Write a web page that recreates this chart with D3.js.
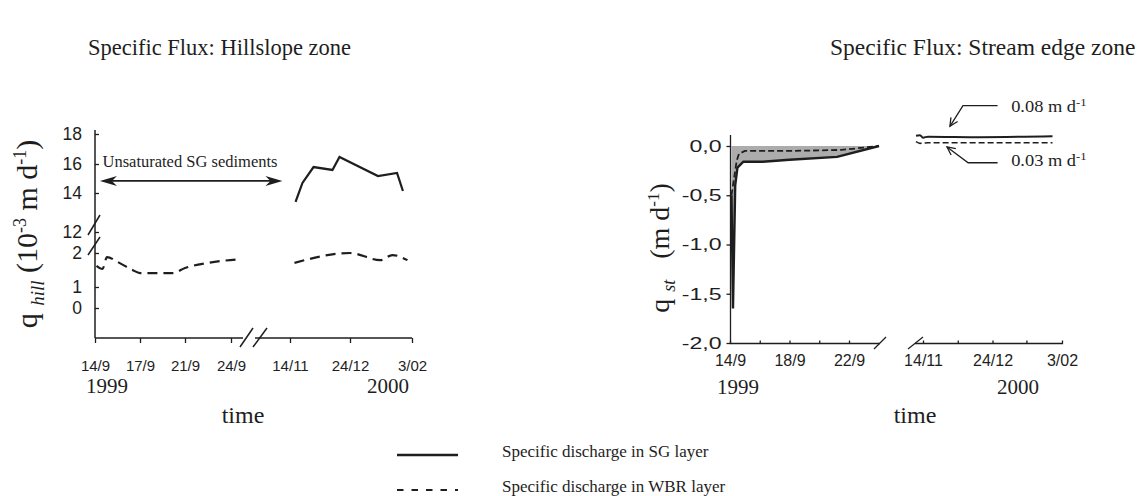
<!DOCTYPE html>
<html><head><meta charset="utf-8">
<script src="https://cdn.jsdelivr.net/npm/d3@7"></script>
<style>body{margin:0;background:#fff}svg{display:block}text{white-space:pre}</style>
</head><body><svg id="c" width="1142" height="496"></svg>
<script>
// ---- data (x = days since 14 Sep 1999) ----
const hillTickDays   = [0,3,7,10,61,101,142];
const hillTickLabels = ["14/9","17/9","21/9","24/9","14/11","24/12","3/02"];
const hillUpperTicks = [12,14,16,18];
const hillLowerTicks = [0,1,2];
const hillSG2000  = [[64.7,13.54],[69.3,14.69],[76.7,15.79],[89.3,15.59],[94,16.47],[119.5,15.17],[132.1,15.38],[136,14.14]];
const hillWBR1999 = [[0.1,1.62],[0.5,1.53],[0.8,1.88],[1.5,1.74],[2.5,1.5],[3,1.41],[5.9,1.41],[7,1.56],[8.5,1.71],[10.7,1.82]];
const hillWBR2000 = [[64,1.71],[101,2.0],[121,1.79],[129,1.94],[139,1.79]];

const streamTickDays   = [0,2,4,6,8,61,81,101,121,142];
const streamTickLabels = ["14/9","","18/9","","22/9","14/11","","24/12","","3/02"];
const streamYTicks      = [0,-0.5,-1,-1.5,-2];
const streamYTickLabels = ["0,0","-0,5","-1,0","-1,5","-2,0"];
const streamSG1999  = [[0.1,-0.5],[0.2,-1.65],[0.35,-0.4],[0.5,-0.22],[0.9,-0.16],[2.2,-0.16],[4,-0.14],[7.2,-0.11],[10,0.0]];
const streamWBR1999 = [[0.1,-0.5],[0.3,-0.3],[0.45,-0.15],[0.6,-0.08],[1.0,-0.05],[4,-0.05],[7.5,-0.04],[10,0.0]];
const streamSG2000  = [[52.9,0.105],[57.5,0.11],[61,0.085],[63.9,0.095],[93.8,0.09],[136.4,0.1]];
const streamWBR2000 = [[52.9,0.044],[57.5,0.027],[63.9,0.033],[136.4,0.033]];

const INK = "#1e1e1e";
const SERIF = "Liberation Serif, Times New Roman, serif";
const SANS = "Liberation Sans, Arial, sans-serif";
const svg = d3.select("#c");

function rich(sel, parts){
  parts.forEach(p=>{
    const t = sel.append("tspan").text(p.t);
    if(p.size) t.attr("font-size", p.size);
    if(p.it) t.attr("font-style","italic");
    if(p.dy) t.attr("dy", p.dy);
  });
  return sel;
}

// ---- titles ----
svg.append("text").attr("x",88).attr("y",55).attr("font-family",SERIF).attr("font-size",22.5).attr("fill",INK).text("Specific Flux: Hillslope zone");
svg.append("text").attr("x",830).attr("y",55).attr("font-family",SERIF).attr("font-size",23.5).attr("fill",INK).text("Specific Flux: Stream edge zone");

// ================= LEFT: hillslope =================
const xH = d3.scaleLinear().domain([0,3,7,10,11,61,101,142]).range([95,140,185,231,246,290,350,412]);
const yUp = d3.scaleLinear().domain([12,14,16,18]).range([232,193,164,134]);
const yLo = d3.scaleLinear().domain([0,1,2]).range([308,287,253]);
const L = svg.append("g");

// axis lines
L.append("line").attr("x1",95).attr("x2",95).attr("y1",130).attr("y2",338).attr("stroke",INK).attr("stroke-width",1.5);
L.append("line").attr("x1",95).attr("x2",412).attr("y1",338).attr("y2",338).attr("stroke",INK).attr("stroke-width",1.5);

function styleAxis(g, size){
  g.select(".domain").remove();
  g.attr("font-family",SANS).attr("font-size",size);
  g.selectAll("line").attr("stroke",INK).attr("stroke-width",1.3);
  g.selectAll("text").attr("fill",INK);
}
L.append("g").attr("transform","translate(95,0)")
  .call(d3.axisLeft(yUp).tickValues(hillUpperTicks).tickSize(-4).tickPadding(13).tickFormat(d3.format("d")))
  .call(g=>styleAxis(g,17.5));
L.append("g").attr("transform","translate(95,0)")
  .call(d3.axisLeft(yLo).tickValues(hillLowerTicks).tickSize(-4).tickPadding(13).tickFormat(d3.format("d")))
  .call(g=>styleAxis(g,17.5));
L.append("g").attr("transform","translate(0,338)")
  .call(d3.axisBottom(xH).tickValues(hillTickDays).tickSize(5).tickFormat((d,i)=>hillTickLabels[i]))
  .call(g=>{styleAxis(g,15); g.selectAll("text").attr("y",33).attr("dy",null);});

// break marks
const slash = (x1,y1,x2,y2)=>L.append("line").attr("x1",x1).attr("y1",y1).attr("x2",x2).attr("y2",y2).attr("stroke",INK).attr("stroke-width",1.5);
slash(88,235,100,215); slash(88,255,100,237);
L.append("rect").attr("x",243).attr("y",334).attr("width",12).attr("height",8).attr("fill","#fff");
slash(240,347,253,328); slash(253,347,267,328);

// lines
const lineH = yS => d3.line().x(d=>xH(d[0])).y(d=>yS(d[1]));
L.append("path").datum(hillSG2000).attr("d",lineH(yUp)).attr("fill","none").attr("stroke",INK).attr("stroke-width",2.2).attr("stroke-linejoin","miter");
[hillWBR1999, hillWBR2000].forEach(s=>{
  L.append("path").datum(s).attr("d",lineH(yLo).curve(d3.curveMonotoneX)).attr("fill","none").attr("stroke",INK).attr("stroke-width",2.2).attr("stroke-dasharray","10,6");
});

// unsaturated arrow
const ay = yUp(14.83);
L.append("line").attr("x1",xH(0.33)+10).attr("x2",xH(52.4)-10).attr("y1",ay).attr("y2",ay).attr("stroke",INK).attr("stroke-width",1.8);
const head = (x,y,dir)=>L.append("path").attr("d",`M${x},${y} L${x-dir*17},${y-5} L${x-dir*12},${y} L${x-dir*17},${y+5} Z`).attr("fill",INK);
head(xH(0.33),ay,-1); head(xH(52.4),ay,1);
L.append("text").attr("x",190).attr("y",167).attr("text-anchor","middle").attr("font-family",SERIF).attr("font-size",16.5).attr("fill",INK).text("Unsaturated SG sediments");

// axis titles
rich(L.append("text").attr("transform","translate(37,234) rotate(-90)").attr("text-anchor","middle").attr("font-family",SERIF).attr("font-size",30).attr("fill",INK),
  [{t:"q "},{t:"hill",it:true,size:19,dy:7},{t:" (10",dy:-7},{t:"-3",size:18,dy:-11},{t:" m d",dy:11},{t:"-1",size:18,dy:-11},{t:")",dy:11}]);
L.append("text").attr("x",107).attr("y",393).attr("text-anchor","middle").attr("font-family",SERIF).attr("font-size",21).attr("fill",INK).text("1999");
L.append("text").attr("x",388).attr("y",393).attr("text-anchor","middle").attr("font-family",SERIF).attr("font-size",21).attr("fill",INK).text("2000");
L.append("text").attr("x",243).attr("y",423).attr("text-anchor","middle").attr("font-family",SERIF).attr("font-size",24).attr("fill",INK).text("time");

// ================= RIGHT: stream edge =================
const xS = d3.scaleLinear().domain([0,8,10,61,101,142]).range([730,849,879,923,992.5,1062]);
const yS = d3.scaleLinear().domain([-2,0]).range([343,146]);
const R = svg.append("g");

// area between 0 and SG
R.append("path").datum(streamSG1999).attr("d",d3.area().x(d=>xS(d[0])).y0(yS(0)).y1(d=>yS(d[1]))).attr("fill","#acacac");

R.append("line").attr("x1",730.5).attr("x2",730.5).attr("y1",135).attr("y2",343.5).attr("stroke",INK).attr("stroke-width",1.3);
R.append("line").attr("x1",730).attr("x2",880).attr("y1",343.5).attr("y2",343.5).attr("stroke",INK).attr("stroke-width",1.3);
R.append("line").attr("x1",915).attr("x2",1063).attr("y1",343.5).attr("y2",343.5).attr("stroke",INK).attr("stroke-width",1.3);
const rs = (x1,y1,x2,y2)=>R.append("line").attr("x1",x1).attr("y1",y1).attr("x2",x2).attr("y2",y2).attr("stroke",INK).attr("stroke-width",1.3);
rs(874,349,886,337); rs(908,349,923,337);

R.append("g").attr("transform","translate(730.5,0)")
  .call(d3.axisLeft(yS).tickValues(streamYTicks).tickSize(4).tickPadding(5).tickFormat((d,i)=>streamYTickLabels[i]))
  .call(g=>{styleAxis(g,16.5); g.selectAll("text").attr("transform","scale(1.4,1)").attr("x",-9/1.4);});
R.append("g").attr("transform","translate(0,343.5)")
  .call(d3.axisBottom(xS).tickValues(streamTickDays).tickSize(-3).tickFormat((d,i)=>streamTickLabels[i]))
  .call(g=>{styleAxis(g,16); g.selectAll("text").attr("y",22).attr("dy",null);});

const lineS = d3.line().x(d=>xS(d[0])).y(d=>yS(d[1]));
R.append("path").datum(streamSG1999).attr("d",lineS).attr("fill","none").attr("stroke",INK).attr("stroke-width",2.4);
R.append("path").datum(streamWBR1999).attr("d",lineS).attr("fill","none").attr("stroke",INK).attr("stroke-width",1.8).attr("stroke-dasharray","6,3");
R.append("path").datum(streamSG2000).attr("d",lineS.curve(d3.curveMonotoneX)).attr("fill","none").attr("stroke",INK).attr("stroke-width",2);
R.append("path").datum(streamWBR2000).attr("d",lineS).attr("fill","none").attr("stroke",INK).attr("stroke-width",1.6).attr("stroke-dasharray","6,3");

// annotations
function pointer(pts){
  R.append("path").attr("d",d3.line()(pts)).attr("fill","none").attr("stroke",INK).attr("stroke-width",1.3);
  const [a,b] = [pts[pts.length-2], pts[pts.length-1]];
  const ang = Math.atan2(b[1]-a[1], b[0]-a[0]);
  const l=9, w=0.45;
  R.append("path").attr("d",`M${b[0]-l*Math.cos(ang-w)},${b[1]-l*Math.sin(ang-w)} L${b[0]},${b[1]} L${b[0]-l*Math.cos(ang+w)},${b[1]-l*Math.sin(ang+w)}`)
    .attr("fill","none").attr("stroke",INK).attr("stroke-width",1.3);
}
pointer([[xS(104),yS(0.41)],[xS(84),yS(0.41)],[xS(76.5),yS(0.2)]]);
pointer([[xS(104),yS(-0.17)],[xS(87),yS(-0.17)],[xS(74.8),yS(-0.01)]]);
rich(R.append("text").attr("transform",`translate(${xS(112)},112) scale(1.15,1)`).attr("font-family",SERIF).attr("font-size",16).attr("fill",INK),
  [{t:"0.08 m d"},{t:"-1",size:11,dy:-6}]);
rich(R.append("text").attr("transform",`translate(${xS(112)},166) scale(1.15,1)`).attr("font-family",SERIF).attr("font-size",16).attr("fill",INK),
  [{t:"0.03 m d"},{t:"-1",size:11,dy:-6}]);

rich(R.append("text").attr("transform","translate(669,248) rotate(-90)").attr("text-anchor","middle").attr("font-family",SERIF).attr("font-size",28).attr("fill",INK),
  [{t:"q "},{t:"st",it:true,size:18,dy:6},{t:"   (m d",dy:-6},{t:"-1",size:17,dy:-10},{t:")",dy:10}]);
R.append("text").attr("x",738).attr("y",394).attr("text-anchor","middle").attr("font-family",SERIF).attr("font-size",21).attr("fill",INK).text("1999");
R.append("text").attr("x",1018).attr("y",394).attr("text-anchor","middle").attr("font-family",SERIF).attr("font-size",21).attr("fill",INK).text("2000");
R.append("text").attr("x",915).attr("y",423).attr("text-anchor","middle").attr("font-family",SERIF).attr("font-size",24).attr("fill",INK).text("time");

// ================= legend =================
const G = svg.append("g");
G.append("line").attr("x1",397).attr("x2",458).attr("y1",455).attr("y2",455).attr("stroke",INK).attr("stroke-width",2.4);
G.append("line").attr("x1",397).attr("x2",458).attr("y1",490).attr("y2",490).attr("stroke",INK).attr("stroke-width",2.2).attr("stroke-dasharray","6.5,8");
G.append("text").attr("x",502).attr("y",457).attr("font-family",SERIF).attr("font-size",17).attr("fill",INK).text("Specific discharge in SG layer");
G.append("text").attr("x",502).attr("y",492).attr("font-family",SERIF).attr("font-size",17).attr("fill",INK).text("Specific discharge in WBR layer");
</script></body></html>
